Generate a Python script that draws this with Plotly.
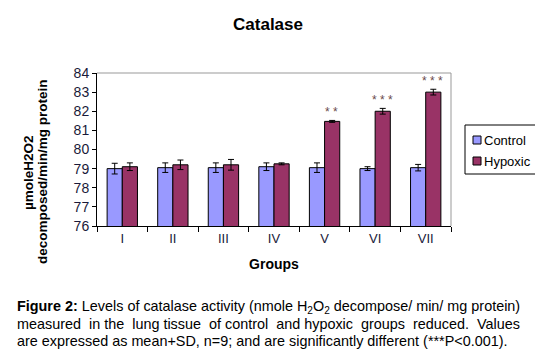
import plotly.graph_objects as go

groups = ["I", "II", "III", "IV", "V", "VI", "VII"]
control = [79.0, 79.05, 79.05, 79.1, 79.05, 79.0, 79.05]
control_sd = [0.28, 0.25, 0.25, 0.2, 0.25, 0.1, 0.17]
hypoxic = [79.1, 79.2, 79.2, 79.25, 81.47, 82.0, 83.0]
hypoxic_sd = [0.2, 0.25, 0.28, 0.05, 0.05, 0.15, 0.15]
signif = ["", "", "", "", "* *", "* * *", "* * *"]
series_names = ["Control", "Hypoxic"]
series_colors = ["#9999FF", "#993366"]

FONT = "Liberation Sans, Arial, sans-serif"
L, R, T, B = 89, 100, 65, 132
PW, PH = 543 - L - R, 350 - T - B


def px_x(x):
    return (x - L) / PW


def px_y(y):
    return (350 - B - y) / PH


fig = go.Figure()
fig.add_trace(go.Bar(
    x=groups, y=control, name=series_names[0], showlegend=False,
    marker=dict(color=series_colors[0], line=dict(color="black", width=1)),
    error_y=dict(type="data", array=control_sd, color="black", thickness=1, width=3),
))
fig.add_trace(go.Bar(
    x=groups, y=hypoxic, name=series_names[1], showlegend=False,
    marker=dict(color=series_colors[1], line=dict(color="black", width=1)),
    error_y=dict(type="data", array=hypoxic_sd, color="black", thickness=1, width=3),
))

for g, v, sd, s in zip(groups, hypoxic, hypoxic_sd, signif):
    if s:
        fig.add_annotation(x=g, y=v + sd, text=s, showarrow=False, xshift=7,
                           yshift=8, yanchor="middle",
                           font=dict(family=FONT, size=12, color="#6b4a4a"))

fig.update_layout(
    width=543, height=350,
    margin=dict(l=L, r=R, t=T, b=B),
    paper_bgcolor="white", plot_bgcolor="white",
    barmode="group", bargap=0.4, bargroupgap=0,
    showlegend=False,
    title=dict(text="<b>Catalase</b>", x=260 / 543, xanchor="center", y=1 - 16 / 350,
               yanchor="middle",
               font=dict(family=FONT, size=17, color="black")),
    font=dict(family=FONT, color="black"),
)
fig.update_xaxes(
    type="category", showline=True, linecolor="black", linewidth=1,
    ticks="outside", tickson="boundaries", ticklen=5, tickcolor="black",
    tickfont=dict(family=FONT, size=13, color="#1a1a3a"),
    title=dict(text="<b>Groups</b>", font=dict(family=FONT, size=14), standoff=14),
)
fig.update_yaxes(
    range=[76, 84], dtick=1, showline=True, linecolor="black", linewidth=1,
    ticks="outside", ticklen=4, tickcolor="black", showgrid=False, zeroline=False,
    tickfont=dict(family=FONT, size=14, color="#1a1a3a"),
)
# y-axis title (two lines, offset as in the reference)
fig.add_annotation(xref="paper", yref="paper", x=px_x(20), y=px_y(165),
                   text="<b>µmoleH2O2</b>", textangle=-90, showarrow=False,
                   xanchor="center", yanchor="middle",
                   font=dict(family=FONT, size=13.5, color="black"))
fig.add_annotation(xref="paper", yref="paper", x=px_x(34), y=px_y(163),
                   text="<b>decomposed/min/mg protein</b>", textangle=-90, showarrow=False,
                   xanchor="center", yanchor="middle",
                   font=dict(family=FONT, size=13.5, color="black"))

# plot area top/right border in grey
fig.add_shape(type="line", xref="paper", yref="paper", x0=0, x1=1, y0=1, y1=1,
              line=dict(color="#999999", width=1))
fig.add_shape(type="line", xref="paper", yref="paper", x0=1, x1=1, y0=0, y1=1,
              line=dict(color="#999999", width=1))

# legend box
fig.add_shape(type="rect", xref="paper", yref="paper", x0=px_x(457), x1=px_x(531),
              y0=px_y(166), y1=px_y(117), line=dict(color="black", width=1),
              fillcolor="white")
for i, (nm, col) in enumerate(zip(series_names, series_colors)):
    cy = 132 + 21 * i
    fig.add_shape(type="rect", xref="paper", yref="paper", x0=px_x(465), x1=px_x(473),
                  y0=px_y(cy + 4), y1=px_y(cy - 4), line=dict(color="black", width=1),
                  fillcolor=col)
    fig.add_annotation(xref="paper", yref="paper", x=px_x(474), y=px_y(cy), text=nm,
                       showarrow=False, xanchor="left", yanchor="middle",
                       font=dict(family=FONT, size=13, color="black"))

S2 = " &nbsp;"
caption = [
    "<b>Figure 2:</b> Levels of catalase activity (nmole H<sub>2</sub>O<sub>2</sub> decompose/ min/ mg protein)",
    "measured" + S2 + "in the" + S2 + "lung tissue" + S2 + "of control" + S2 + "and hypoxic"
    + S2 + "groups" + S2 + "reduced." + S2 + "Values",
    "are expressed as mean+SD, n=9; and are significantly different (***P&lt;0.001).",
]
for i, line in enumerate(caption):
    fig.add_annotation(xref="paper", yref="paper", x=px_x(7),
                       y=px_y(299 + 17 * i), text=line, showarrow=False,
                       xanchor="left", yanchor="middle", align="left",
                       font=dict(family=FONT, size=14.4, color="black"))

fig.write_html("out.html")
